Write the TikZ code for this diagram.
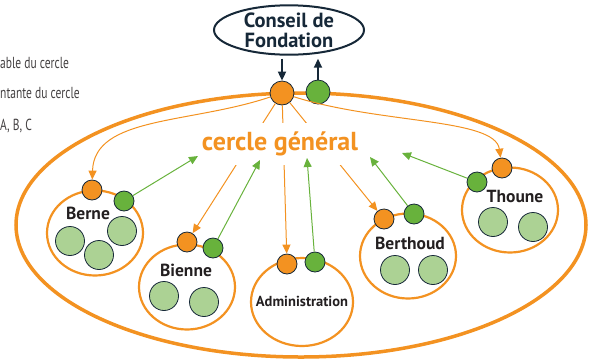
\documentclass[tikz,border=0pt]{standalone}
\usepackage{fontspec}
\setmainfont{PT Sans}
\newfontfamily\narrowfont[FakeStretch=0.72]{PT Sans}
\usetikzlibrary{shapes.geometric,arrows.meta,positioning}
\definecolor{myorange}{RGB}{243,146,33}
\definecolor{mygreen}{RGB}{104,178,60}
\definecolor{mylightgreen}{RGB}{172,210,148}
\definecolor{mynavy}{RGB}{22,40,56}
\definecolor{mytext}{RGB}{35,31,32}

\begin{document}
\begin{tikzpicture}[
    x=1pt, y=-1pt,
    unit/.style={ellipse, draw=myorange, line width=2.2pt, minimum width=96pt, minimum height=85pt},
    odot/.style={circle, draw=mynavy, fill=myorange, line width=0.8pt, minimum size=20pt, inner sep=0pt},
    gdot/.style={circle, draw=mynavy, fill=mygreen, line width=0.8pt, minimum size=20pt, inner sep=0pt},
    member/.style={circle, draw=mynavy, fill=mylightgreen, line width=0.8pt, minimum size=29pt, inner sep=0pt},
    unitlabel/.style={text=mytext, font=\bfseries\fontsize{17.5}{19}\selectfont, inner sep=0pt},
    legend/.style={text=mytext!85, font=\narrowfont\fontsize{16}{18}\selectfont, anchor=base west, inner sep=0pt},
    oarrow/.style={->, >={Triangle[length=9pt,width=8pt]}, draw=myorange, line width=1pt},
    garrow/.style={->, >={Triangle[length=9pt,width=8pt]}, draw=mygreen, line width=1pt},
    ctrl/.style={->, >={Triangle[length=9pt,width=8pt]}, draw=mynavy, line width=1.8pt}
]
\useasboundingbox (0,0) rectangle (589,360);

% Legend (cut at the left edge)
\node[legend] (legend1) at (0,68) {able du cercle};
\node[legend] (legend2) at (0,98) {ntante du cercle};
\node[legend] (legend3) at (0,130) {A, B, C};

% Foundation board
\node[ellipse, draw=mynavy, line width=2pt, minimum width=150pt, minimum height=48pt, align=center,
      text=mynavy, font=\bfseries\fontsize{20.5}{20}\selectfont, inner sep=0pt] (council) at (289,30) {Conseil de\\Fondation};

% General circle
\node[ellipse, draw=myorange, line width=3.5pt, minimum width=570pt, minimum height=264pt] (network) at (301,225) {};

% Sub circles
\node[unit] (berne) at (95,233) {};
\node[unit] (bienne) at (187,287) {};
\node[unit, minimum width=102pt, minimum height=88pt] (admin) at (302,302) {};
\node[unit] (berthoud) at (408,256) {};
\node[unit] (thoune) at (510,210) {};

\node[unitlabel] (berne-label) at (88,213) {Berne};
\node[unitlabel] (bienne-label) at (186,270) {Bienne};
\node[unitlabel, font=\bfseries\fontsize{14.5}{16}\selectfont] (admin-label) at (302,301) {Administration};
\node[unitlabel] (berthoud-label) at (410,243) {Berthoud};
\node[unitlabel] (thoune-label) at (515,196) {Thoune};

% Members
\node[member] (berne-m1) at (70,241) {};
\node[member] (berne-m2) at (99,255) {};
\node[member] (berne-m3) at (122,231) {};
\node[member] (bienne-m1) at (164,296) {};
\node[member] (bienne-m2) at (204,302) {};
\node[member] (berthoud-m1) at (395,270) {};
\node[member] (berthoud-m2) at (433,270) {};
\node[member] (thoune-m1) at (493,222) {};
\node[member] (thoune-m2) at (533,227) {};

% Leaders and delegates
\node[odot, minimum size=24pt] (top-in) at (282,93) {};
\node[gdot, minimum size=24pt] (top-out) at (318,92) {};
\node[odot] (berne-in) at (92,190) {};
\node[gdot] (berne-out) at (124,201) {};
\node[odot] (bienne-in) at (187,242) {};
\node[gdot] (bienne-out) at (213,248) {};
\node[odot] (admin-in) at (287,264) {};
\node[gdot] (admin-out) at (315,262) {};
\node[odot] (berthoud-in) at (384,219) {};
\node[gdot] (berthoud-out) at (414,214) {};
\node[odot] (thoune-in) at (502,168) {};
\node[gdot] (thoune-out) at (477,182) {};

% Links to the board
\draw[ctrl, shorten <=3pt] (top-in |- council.south) -- (top-in);
\draw[ctrl, shorten >=3pt] (top-out) -- (top-out |- council.south);

% Leader links
\draw[oarrow] (top-in) -- (bienne-in);
\draw[oarrow] (top-in) -- (admin-in);
\draw[oarrow] (top-in) -- (berthoud-in);

\node[fill=white, text=myorange, font=\bfseries\fontsize{26}{28}\selectfont, inner xsep=4pt, inner ysep=9pt] (general) at (280,144) {cercle général};

\draw[oarrow] (top-in) .. controls (190,124) and (94,116) .. (berne-in);
\draw[oarrow] (top-in) .. controls (380,124) and (495,118) .. (thoune-in);

% Delegate links
\coordinate (berne-to) at (198,156);
\coordinate (bienne-to) at (260,160);
\coordinate (admin-to) at (307,158);
\coordinate (berthoud-to) at (370,157);
\coordinate (thoune-to) at (402,153);
\draw[garrow] (berne-out) -- (berne-to);
\draw[garrow] (bienne-out) -- (bienne-to);
\draw[garrow] (admin-out) -- (admin-to);
\draw[garrow] (berthoud-out) -- (berthoud-to);
\draw[garrow] (thoune-out) -- (thoune-to);

\end{tikzpicture}
\end{document}
